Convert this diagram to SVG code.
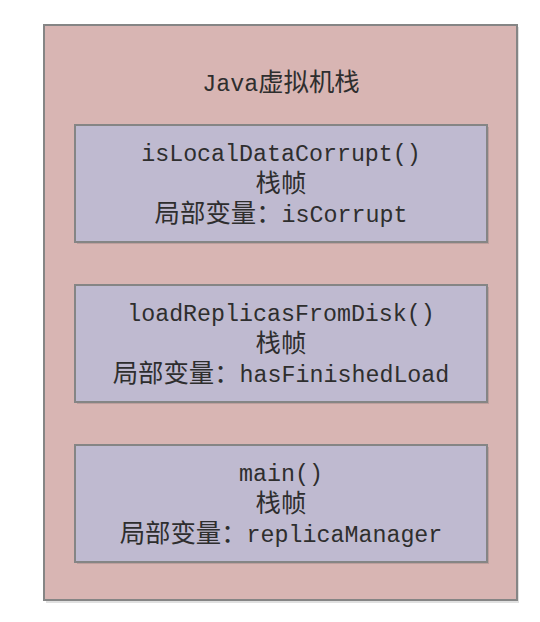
<svg xmlns="http://www.w3.org/2000/svg" width="540" height="622" viewBox="0 0 540 622">
<style>
.sh{fill:#000;opacity:0.12}
.outer{fill:#D8B5B3;stroke:#858585;stroke-width:2}
.frame{fill:#BFBAD0;stroke:#858585;stroke-width:2}
text{fill:#2E2E2E;text-anchor:middle}
.m{font-family:"Liberation Mono","DejaVu Sans Mono",monospace;font-size:23.3px}
.c{font-family:"Noto Sans CJK SC","Noto Sans CJK JP",sans-serif;font-size:25.4px}
</style>
<rect x="0" y="0" width="540" height="622" fill="#ffffff"/>
<g id="stack">
<rect class="sh" x="46" y="27" width="473" height="576"/>
<rect class="outer" x="44" y="25" width="473" height="575"/>
<text x="281" y="91"><tspan class="m">Java</tspan><tspan class="c">虚拟机栈</tspan></text>
</g>
<g id="frame1">
<rect class="sh" x="77" y="127" width="412" height="117"/>
<rect class="frame" x="75" y="125" width="412" height="117"/>
<text class="m" x="281" y="161">isLocalDataCorrupt()</text>
<text class="c" x="281" y="192">栈帧</text>
<text x="281" y="222"><tspan class="c">局部变量：</tspan><tspan class="m">isCorrupt</tspan></text>
</g>
<g id="frame2">
<rect class="sh" x="77" y="287" width="412" height="117"/>
<rect class="frame" x="75" y="285" width="412" height="117"/>
<text class="m" x="281" y="321">loadReplicasFromDisk()</text>
<text class="c" x="281" y="352">栈帧</text>
<text x="281" y="382"><tspan class="c">局部变量：</tspan><tspan class="m">hasFinishedLoad</tspan></text>
</g>
<g id="frame3">
<rect class="sh" x="77" y="447" width="412" height="117"/>
<rect class="frame" x="75" y="445" width="412" height="117"/>
<text class="m" x="281" y="481">main()</text>
<text class="c" x="281" y="512">栈帧</text>
<text x="281" y="542"><tspan class="c">局部变量：</tspan><tspan class="m">replicaManager</tspan></text>
</g>
<g id="connectors"></g>
</svg>
